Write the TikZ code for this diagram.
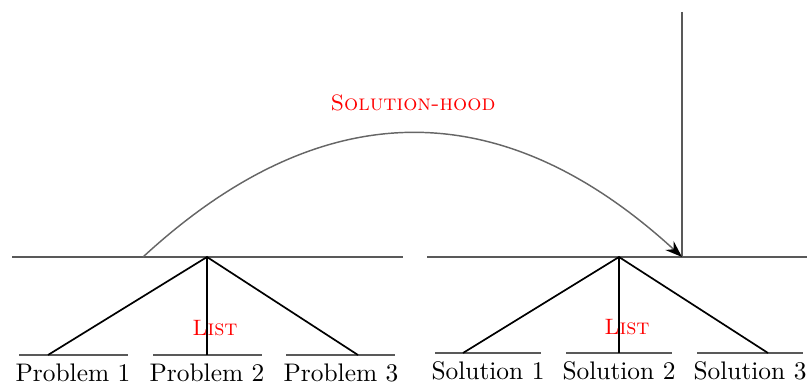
\documentclass[tikz,border=0pt]{standalone}
\usetikzlibrary{arrows.meta}
\begin{document}
\begin{tikzpicture}[x=0.4132pt,y=-0.4132pt,
  rule/.style={black!65,line width=0.5pt},
  branch/.style={black,line width=0.7pt},
  leaf/.style={inner sep=0pt,font=\fontsize{10.5}{12}\selectfont},
  redlabel/.style={text=red,inner sep=0pt,font=\fontsize{9.2}{11}\selectfont\scshape}]
\useasboundingbox (0,0) rectangle (807,383);
% horizontal rules
\coordinate (l1) at (12,257); \coordinate (l2) at (403,257);
\coordinate (r1) at (427,257); \coordinate (r2) at (807,257);
\draw[rule] (l1) -- (l2);
\draw[rule] (r1) -- (r2);
% vertical line
\coordinate (vt) at (682,12); \coordinate (vb) at (682,257);
\draw[rule] (vt) -- (vb);
% apexes
\coordinate (pa) at (207,257);
\coordinate (sa) at (619,257);
% leaf rules
\coordinate (p1a) at (19,355); \coordinate (p1b) at (128,355);
\coordinate (p2a) at (153,355); \coordinate (p2b) at (262,355);
\coordinate (p3a) at (286,355); \coordinate (p3b) at (395,355);
\coordinate (s1a) at (435,353); \coordinate (s1b) at (541,353);
\coordinate (s2a) at (566,353); \coordinate (s2b) at (672,353);
\coordinate (s3a) at (697,353); \coordinate (s3b) at (803,353);
\foreach \a/\b in {p1a/p1b,p2a/p2b,p3a/p3b,s1a/s1b,s2a/s2b,s3a/s3b}
  \draw[rule] (\a) -- (\b);
% leaf labels
\node[leaf] (p1) at (73,373) {Problem 1};
\node[leaf] (p2) at (207,373) {Problem 2};
\node[leaf] (p3) at (341,373) {Problem 3};
\node[leaf] (s1) at (488,371) {Solution 1};
\node[leaf] (s2) at (619,371) {Solution 2};
\node[leaf] (s3) at (750,371) {Solution 3};
% branch ends
\coordinate (pe1) at (48,355); \coordinate (pe2) at (207,355); \coordinate (pe3) at (358,355);
\coordinate (se1) at (463,353); \coordinate (se2) at (619,353); \coordinate (se3) at (768,353);
\draw[branch] (pe1) -- (pa) -- (pe3);
\draw[branch] (pa) -- (pe2);
\draw[branch] (se1) -- (sa) -- (se3);
\draw[branch] (sa) -- (se2);
% list labels
\node[redlabel] (pl) at (215,328) {List};
\node[redlabel] (sl) at (627,327) {List};
% arc
\coordinate (as) at (143,257);
\draw[black!60,line width=0.6pt,-{Stealth[length=7pt,width=5pt,black]}] (as) .. controls (322,92) and (502,92) .. (vb);
\node[redlabel] (sh) at (413,103) {Solution-hood};
\end{tikzpicture}
\end{document}
